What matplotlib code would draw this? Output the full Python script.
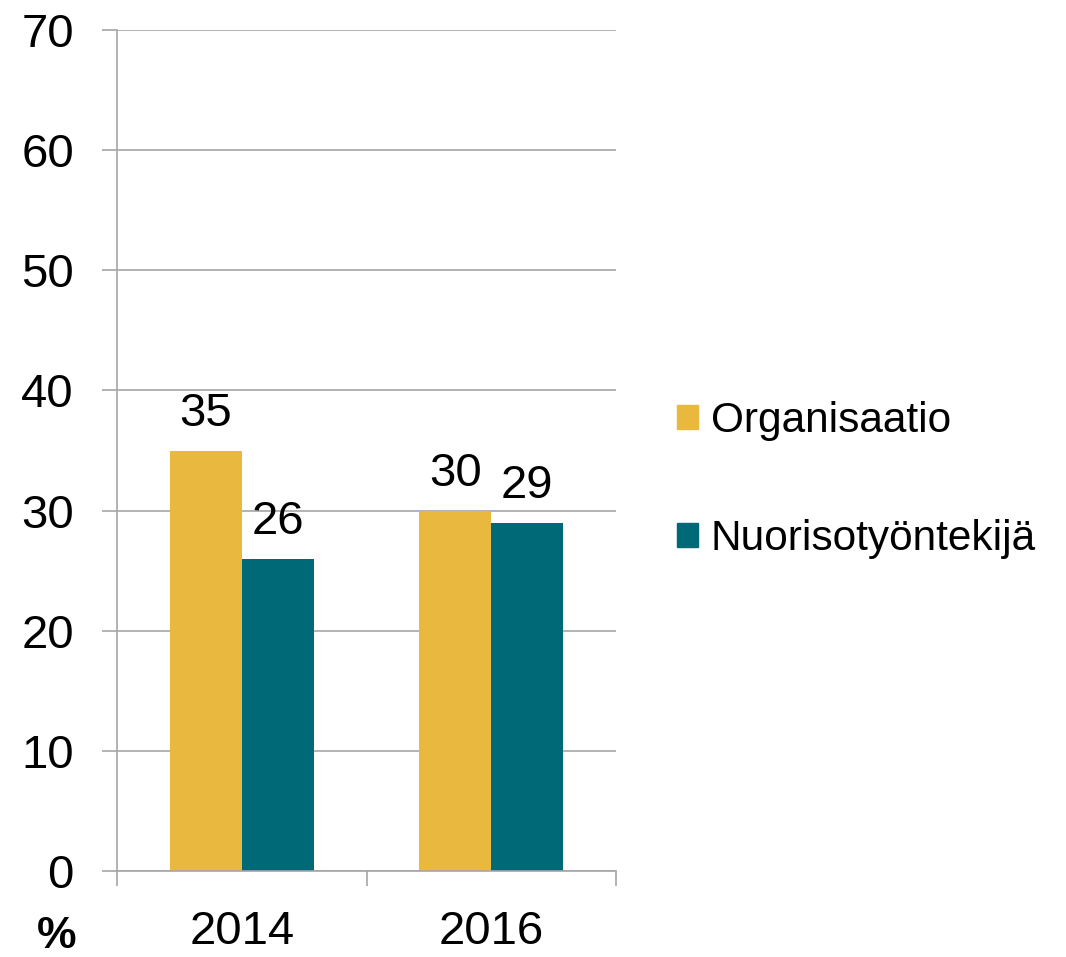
import matplotlib
matplotlib.use("Agg")
import matplotlib.pyplot as plt
import numpy as np
from matplotlib.patches import Patch

years = ["2014", "2016"]
series_names = ["Organisaatio", "Nuorisotyöntekijä"]
organisaatio = [35, 30]
nuorisotyontekija = [26, 29]
colors = ["#E8B83F", "#006978"]

plt.rcParams['font.family'] = ['Liberation Sans', 'DejaVu Sans']
FS = 34
LFS = 30.5

fig = plt.figure(figsize=(10.66, 9.57), dpi=100)
ax = fig.add_axes([117/1066, 1-871/957, (616-117)/1066, (871-30)/957])

x = np.arange(len(years))
w = 0.288
b1 = ax.bar(x - w/2, organisaatio, w, color=colors[0], label=series_names[0])
b2 = ax.bar(x + w/2, nuorisotyontekija, w, color=colors[1], label=series_names[1])
for bars in (b1, b2):
    for r in bars:
        ax.annotate(f"{r.get_height():g}", (r.get_x() + r.get_width()/2, r.get_height()),
                    xytext=(0, 15), textcoords='offset pixels', ha='center', va='bottom',
                    fontsize=FS)

ax.set_ylim(0, 70)
ax.set_xlim(-0.5, 1.5)
ax.set_yticks(range(0, 71, 10))
ax.set_xticks([-0.5, 0.5, 1.5], minor=False)
ax.set_xticklabels(["", "", ""])
ax.set_xticks(x, minor=True)
ax.set_xticklabels(years, minor=True, fontsize=FS)
ax.tick_params(axis='x', which='major', length=11, width=1.2, color='#A6A6A6')
ax.tick_params(axis='x', which='minor', length=0, pad=28)
ax.tick_params(axis='y', length=11, width=1.2, color='#A6A6A6', labelsize=FS, pad=20)
ax.grid(axis='y', color='#A6A6A6', linewidth=1.2)
ax.set_axisbelow(True)
for s in ['top', 'right']:
    ax.spines[s].set_visible(False)
for s in ['left', 'bottom']:
    ax.spines[s].set_color('#A6A6A6')
    ax.spines[s].set_linewidth(1.2)

fig.text(57/1066, 1-936/957, "%", fontsize=32, fontweight='bold', ha='center', va='center')

handles = [Patch(color=colors[0]), Patch(color=colors[1])]
leg = fig.legend(handles, series_names, loc='center left',
                 bbox_to_anchor=(677/1066, 1-480/957), frameon=False, fontsize=LFS,
                 handlelength=0.5, handleheight=0.5, handletextpad=0.3, labelspacing=1.85,
                 borderpad=0, borderaxespad=0)

fig.savefig("out.png", dpi=100)
